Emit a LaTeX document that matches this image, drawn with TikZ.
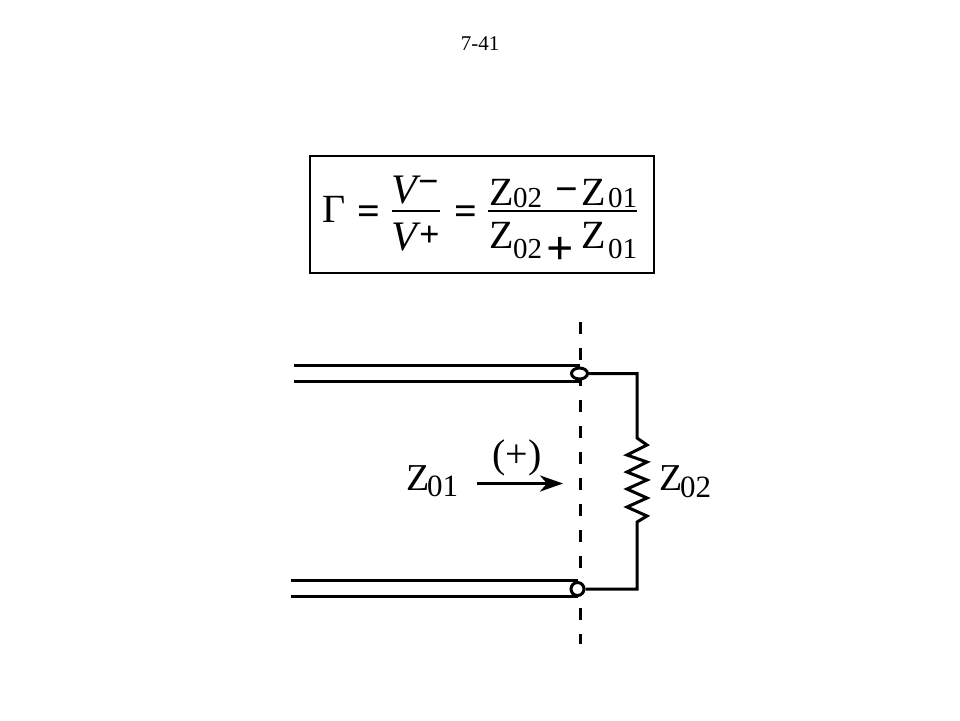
\documentclass[tikz,border=0pt]{standalone}
\usepackage{fontspec}
\setmainfont{Liberation Serif}
\usetikzlibrary{shapes.geometric,arrows.meta}
\tikzset{
  wire/.style={line width=3pt,black},
  big/.style={inner sep=0pt,anchor=base west,font=\fontsize{40}{40}\selectfont},
  opr/.style={inner sep=0pt,anchor=base west,font=\fontsize{40}{40}\selectfont\bfseries},
  oprs/.style={inner sep=0pt,anchor=base west,font=\fontsize{36}{36}\selectfont\bfseries},
  oprl/.style={inner sep=0pt,anchor=base west,font=\fontsize{48}{48}\selectfont\bfseries},
  sub/.style={inner sep=0pt,anchor=base west,font=\fontsize{29}{29}\selectfont},
  bigi/.style={inner sep=0pt,anchor=base west,font=\fontsize{42}{42}\selectfont\itshape},
  zl/.style={inner sep=0pt,anchor=base west,font=\fontsize{38}{38}\selectfont},
  subl/.style={inner sep=0pt,anchor=base west,font=\fontsize{31}{31}\selectfont},
  term/.style={draw,line width=3pt,fill=white,ellipse,inner sep=0pt}
}
\begin{document}
\begin{tikzpicture}[x=1pt,y=-1pt]
\useasboundingbox (0,0) rectangle (960,720);
\fill[white] (0,0) rectangle (960,720);
\node[inner sep=0pt,font=\fontsize{21}{21}\selectfont] (title) at (480,44) {7-41};
\node[draw,line width=2.2pt,minimum width=344pt,minimum height=117pt,inner sep=0pt] (eqbox) at (482,214.5) {};
\node[big] (gamma) at (322,222) {Γ};
\node[opr] (eq1) at (357,224) {=};
\node[bigi] (v1) at (391,203) {V};
\node[oprs] (vm) at (418,193) {−};
\node[bigi] (v2) at (391,250) {V};
\node[oprs] (vp) at (419,246) {+};
\node[opr] (eq2) at (454,224) {=};
\node[big] (z1) at (489,205) {Z};
\node[sub] (s1) at (513,207) {02};
\node[opr] (mi) at (555,202) {−};
\node[big] (z2) at (581,205) {Z};
\node[sub] (s2) at (608,207) {01};
\node[big] (z3) at (489,248) {Z};
\node[sub] (s3) at (513,258) {02};
\node[oprl] (pl) at (546,264) {+};
\node[big] (z4) at (581,248) {Z};
\node[sub] (s4) at (608,258) {01};
\coordinate (f1a) at (392,211); \coordinate (f1b) at (440,211);
\coordinate (f2a) at (488,211); \coordinate (f2b) at (637,211);
\draw[line width=1.6pt] (f1a) -- (f1b);
\draw[line width=1.6pt] (f2a) -- (f2b);
% transmission lines
\coordinate (t1a) at (294,365); \coordinate (t1b) at (580,365);
\coordinate (t2a) at (294,381); \coordinate (t2b) at (580,381);
\coordinate (b1a) at (291,580); \coordinate (b1b) at (578,580);
\coordinate (b2a) at (291,596); \coordinate (b2b) at (578,596);
\draw[wire] (t1a) -- (t1b);
\draw[wire] (t2a) -- (t2b);
\draw[wire] (b1a) -- (b1b);
\draw[wire] (b2a) -- (b2b);
% reference plane
\coordinate (p1) at (580.5,322); \coordinate (p2) at (580.5,644);
\draw[line width=3.6pt,dash pattern=on 12pt off 14pt] (p1) -- (p2);
% circuit
\coordinate (c1) at (637,373.5); \coordinate (c2) at (637,589);
\node[term,minimum width=16pt,minimum height=11pt] (n1) at (579.5,373.5) {};
\node[term,minimum width=13pt,minimum height=13pt] (n2) at (577.5,589) {};
\draw[wire,line join=miter] (n1) -- (c1) -- (637,438) -- (647,445) -- (627,455) -- (647,462) -- (627,472) -- (647,480) -- (627,489) -- (647,498) -- (627,507) -- (647,516) -- (637,522) -- (c2) -- (n2);
% labels
\node[zl] (z01) at (406,490) {Z};
\node[subl] (z01s) at (427,496) {01};
\node[zl] (z02) at (659,490) {Z};
\node[subl] (z02s) at (680,497) {02};
\node[inner sep=0pt,anchor=base west,font=\fontsize{40}{40}\selectfont] (plus) at (492,467) {(+)};
\coordinate (a1) at (477,483.5);
\coordinate (a2) at (563,483.5);
\draw[line width=3.2pt,-{Stealth[length=23pt,width=16pt,inset=7pt]}] (a1) -- (a2);
\end{tikzpicture}
\end{document}
